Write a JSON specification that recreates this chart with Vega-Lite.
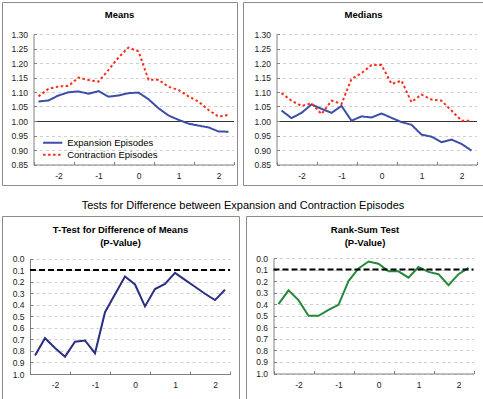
{
  "$schema": "https://vega.github.io/schema/vega-lite/v6.json",
  "padding": {"left": 1, "top": 1, "right": 1, "bottom": 1},
  "config": {
    "font": "Liberation Sans",
    "view": {"stroke": "#8c8c8c", "strokeWidth": 1},
    "axis": {
      "domainColor": "#808080",
      "tickColor": "#808080",
      "tickSize": -3,
      "labelFont": "Liberation Sans",
      "labelFontSize": 8.5,
      "labelColor": "#1a1a1a",
      "gridColor": "#d0d0d0",
      "gridDash": [3, 3],
      "labelFlush": false,
      "labelOverlap": false,
      "labelSeparation": 0
    },
    "title": {"font": "Liberation Sans", "color": "#000000"}
  },
  "datasets": {
    "means": [
      {"q": -2.5, "s": "Expansion Episodes", "v": 1.067},
      {"q": -2.25, "s": "Expansion Episodes", "v": 1.071},
      {"q": -2, "s": "Expansion Episodes", "v": 1.088},
      {"q": -1.75, "s": "Expansion Episodes", "v": 1.099},
      {"q": -1.5, "s": "Expansion Episodes", "v": 1.102},
      {"q": -1.25, "s": "Expansion Episodes", "v": 1.094},
      {"q": -1, "s": "Expansion Episodes", "v": 1.103},
      {"q": -0.75, "s": "Expansion Episodes", "v": 1.084},
      {"q": -0.5, "s": "Expansion Episodes", "v": 1.088},
      {"q": -0.25, "s": "Expansion Episodes", "v": 1.096},
      {"q": 0, "s": "Expansion Episodes", "v": 1.098},
      {"q": 0.25, "s": "Expansion Episodes", "v": 1.075},
      {"q": 0.5, "s": "Expansion Episodes", "v": 1.044},
      {"q": 0.75, "s": "Expansion Episodes", "v": 1.019},
      {"q": 1, "s": "Expansion Episodes", "v": 1.004},
      {"q": 1.25, "s": "Expansion Episodes", "v": 0.991},
      {"q": 1.5, "s": "Expansion Episodes", "v": 0.984},
      {"q": 1.75, "s": "Expansion Episodes", "v": 0.978},
      {"q": 2, "s": "Expansion Episodes", "v": 0.964},
      {"q": 2.25, "s": "Expansion Episodes", "v": 0.963},
      {"q": -2.5, "s": "Contraction Episodes", "v": 1.085},
      {"q": -2.25, "s": "Contraction Episodes", "v": 1.111},
      {"q": -2, "s": "Contraction Episodes", "v": 1.119},
      {"q": -1.75, "s": "Contraction Episodes", "v": 1.121},
      {"q": -1.5, "s": "Contraction Episodes", "v": 1.15},
      {"q": -1.25, "s": "Contraction Episodes", "v": 1.141},
      {"q": -1, "s": "Contraction Episodes", "v": 1.136},
      {"q": -0.75, "s": "Contraction Episodes", "v": 1.176},
      {"q": -0.5, "s": "Contraction Episodes", "v": 1.219},
      {"q": -0.25, "s": "Contraction Episodes", "v": 1.253},
      {"q": 0, "s": "Contraction Episodes", "v": 1.24},
      {"q": 0.25, "s": "Contraction Episodes", "v": 1.142},
      {"q": 0.5, "s": "Contraction Episodes", "v": 1.142},
      {"q": 0.75, "s": "Contraction Episodes", "v": 1.118},
      {"q": 1, "s": "Contraction Episodes", "v": 1.107},
      {"q": 1.25, "s": "Contraction Episodes", "v": 1.085},
      {"q": 1.5, "s": "Contraction Episodes", "v": 1.067},
      {"q": 1.75, "s": "Contraction Episodes", "v": 1.038},
      {"q": 2, "s": "Contraction Episodes", "v": 1.015},
      {"q": 2.25, "s": "Contraction Episodes", "v": 1.021}
    ],
    "medians": [
      {"q": -2.5, "s": "Expansion Episodes", "v": 1.036},
      {"q": -2.25, "s": "Expansion Episodes", "v": 1.01},
      {"q": -2, "s": "Expansion Episodes", "v": 1.028},
      {"q": -1.75, "s": "Expansion Episodes", "v": 1.057},
      {"q": -1.5, "s": "Expansion Episodes", "v": 1.042},
      {"q": -1.25, "s": "Expansion Episodes", "v": 1.028},
      {"q": -1, "s": "Expansion Episodes", "v": 1.052},
      {"q": -0.75, "s": "Expansion Episodes", "v": 1.001},
      {"q": -0.5, "s": "Expansion Episodes", "v": 1.016},
      {"q": -0.25, "s": "Expansion Episodes", "v": 1.012},
      {"q": 0, "s": "Expansion Episodes", "v": 1.026},
      {"q": 0.25, "s": "Expansion Episodes", "v": 1.011},
      {"q": 0.5, "s": "Expansion Episodes", "v": 0.996},
      {"q": 0.75, "s": "Expansion Episodes", "v": 0.987},
      {"q": 1, "s": "Expansion Episodes", "v": 0.953},
      {"q": 1.25, "s": "Expansion Episodes", "v": 0.946},
      {"q": 1.5, "s": "Expansion Episodes", "v": 0.927},
      {"q": 1.75, "s": "Expansion Episodes", "v": 0.936},
      {"q": 2, "s": "Expansion Episodes", "v": 0.921},
      {"q": 2.25, "s": "Expansion Episodes", "v": 0.898},
      {"q": -2.5, "s": "Contraction Episodes", "v": 1.096},
      {"q": -2.25, "s": "Contraction Episodes", "v": 1.07},
      {"q": -2, "s": "Contraction Episodes", "v": 1.052},
      {"q": -1.75, "s": "Contraction Episodes", "v": 1.061},
      {"q": -1.5, "s": "Contraction Episodes", "v": 1.024},
      {"q": -1.25, "s": "Contraction Episodes", "v": 1.07},
      {"q": -1, "s": "Contraction Episodes", "v": 1.059},
      {"q": -0.75, "s": "Contraction Episodes", "v": 1.145},
      {"q": -0.5, "s": "Contraction Episodes", "v": 1.165},
      {"q": -0.25, "s": "Contraction Episodes", "v": 1.193},
      {"q": 0, "s": "Contraction Episodes", "v": 1.193},
      {"q": 0.25, "s": "Contraction Episodes", "v": 1.128},
      {"q": 0.5, "s": "Contraction Episodes", "v": 1.139},
      {"q": 0.75, "s": "Contraction Episodes", "v": 1.065},
      {"q": 1, "s": "Contraction Episodes", "v": 1.091},
      {"q": 1.25, "s": "Contraction Episodes", "v": 1.074},
      {"q": 1.5, "s": "Contraction Episodes", "v": 1.07},
      {"q": 1.75, "s": "Contraction Episodes", "v": 1.036},
      {"q": 2, "s": "Contraction Episodes", "v": 1.001},
      {"q": 2.25, "s": "Contraction Episodes", "v": 1.001}
    ],
    "ttest": [
      {"q": -2.5, "p": 0.84}, {"q": -2.25, "p": 0.69}, {"q": -2, "p": 0.775}, {"q": -1.75, "p": 0.85},
      {"q": -1.5, "p": 0.72}, {"q": -1.25, "p": 0.71}, {"q": -1, "p": 0.82}, {"q": -0.75, "p": 0.465},
      {"q": -0.5, "p": 0.31}, {"q": -0.25, "p": 0.155}, {"q": 0, "p": 0.225}, {"q": 0.25, "p": 0.415},
      {"q": 0.5, "p": 0.265}, {"q": 0.75, "p": 0.22}, {"q": 1, "p": 0.125}, {"q": 1.25, "p": 0.185},
      {"q": 1.5, "p": 0.245}, {"q": 1.75, "p": 0.305}, {"q": 2, "p": 0.36}, {"q": 2.25, "p": 0.27}
    ],
    "ranksum": [
      {"q": -2.5, "p": 0.4}, {"q": -2.25, "p": 0.28}, {"q": -2, "p": 0.365}, {"q": -1.75, "p": 0.5},
      {"q": -1.5, "p": 0.5}, {"q": -1.25, "p": 0.45}, {"q": -1, "p": 0.405}, {"q": -0.75, "p": 0.2},
      {"q": -0.5, "p": 0.09}, {"q": -0.25, "p": 0.03}, {"q": 0, "p": 0.05}, {"q": 0.25, "p": 0.115},
      {"q": 0.5, "p": 0.115}, {"q": 0.75, "p": 0.17}, {"q": 1, "p": 0.078}, {"q": 1.25, "p": 0.12},
      {"q": 1.5, "p": 0.14}, {"q": 1.75, "p": 0.235}, {"q": 2, "p": 0.14}, {"q": 2.25, "p": 0.085}
    ],
    "threshold": [{"p": 0.1}]
  },
  "spacing": 13,
  "vconcat": [
    {
      "spacing": 4,
      "hconcat": [
        {
          "width": 235,
          "height": 183,
          "title": {"text": "Means", "fontSize": 9.5, "fontWeight": "bold", "offset": -17},
          "data": {"name": "means"},
          "mark": {"type": "line", "strokeWidth": 2},
          "encoding": {
            "x": {
              "field": "q", "type": "quantitative",
              "scale": {"domain": [-2.625, 2.375], "range": [31.5, 231.5], "nice": false, "zero": false},
              "axis": {"title": null, "grid": false, "values": [-2.625, -1.625, -0.625, 0.375, 1.375, 2.375],
                       "labelExpr": "datum.value < -2 ? '' : '' + (datum.value - 0.375)",
                       "labelOffset": -15, "offset": -20.5, "labelPadding": 9.5, "labelOverlap": false}
            },
            "y": {
              "field": "v", "type": "quantitative",
              "scale": {"domain": [0.85, 1.3], "range": [162.5, 32], "nice": false, "zero": false},
              "axis": {"title": null, "grid": true, "values": [0.85, 0.9, 0.95, 1, 1.05, 1.1, 1.15, 1.2, 1.25, 1.3],
                       "format": ".2f", "offset": -31.5, "labelPadding": 9, "labelOverlap": false,
                       "gridColor": {"condition": {"test": "abs(datum.value - 1) < 0.001", "value": "#333333"}, "value": "#d0d0d0"},
                       "gridDash": {"condition": {"test": "abs(datum.value - 1) < 0.001", "value": [1, 0]}, "value": [3, 3]}}
            },
            "color": {
              "field": "s", "type": "nominal",
              "scale": {"domain": ["Expansion Episodes", "Contraction Episodes"], "range": ["#3d4ea8", "#ff2a1a"]},
              "legend": {"title": null, "orient": "none", "legendX": 39.7, "legendY": 135, "symbolType": "stroke",
                         "symbolSize": 370, "symbolStrokeWidth": 2, "labelFontSize": 9.5, "labelColor": "#000000",
                         "labelOffset": 3.5, "rowPadding": 0, "clipHeight": 11.7, "padding": 0}
            },
            "strokeDash": {
              "field": "s", "type": "nominal",
              "scale": {"domain": ["Expansion Episodes", "Contraction Episodes"], "range": [[1, 0], [2.5, 2.5]]},
              "legend": {"title": null, "orient": "none", "legendX": 39.7, "legendY": 135, "symbolType": "stroke",
                         "symbolSize": 370, "symbolStrokeWidth": 2, "labelFontSize": 9.5, "labelColor": "#000000",
                         "labelOffset": 3.5, "rowPadding": 0, "clipHeight": 11.7, "padding": 0}
            }
          }
        },
        {
          "width": 241,
          "height": 183,
          "title": {"text": "Medians", "fontSize": 9.5, "fontWeight": "bold", "offset": -17},
          "data": {"name": "medians"},
          "mark": {"type": "line", "strokeWidth": 2},
          "encoding": {
            "x": {
              "field": "q", "type": "quantitative",
              "scale": {"domain": [-2.625, 2.375], "range": [33.5, 233.5], "nice": false, "zero": false},
              "axis": {"title": null, "grid": false, "values": [-2.625, -1.625, -0.625, 0.375, 1.375, 2.375],
                       "labelExpr": "datum.value < -2 ? '' : '' + (datum.value - 0.375)",
                       "labelOffset": -15, "offset": -20.5, "labelPadding": 9.5, "labelOverlap": false}
            },
            "y": {
              "field": "v", "type": "quantitative",
              "scale": {"domain": [0.85, 1.3], "range": [162.5, 32], "nice": false, "zero": false},
              "axis": {"title": null, "grid": true, "values": [0.85, 0.9, 0.95, 1, 1.05, 1.1, 1.15, 1.2, 1.25, 1.3],
                       "format": ".2f", "offset": -33.5, "labelPadding": 9, "labelOverlap": false,
                       "gridColor": {"condition": {"test": "abs(datum.value - 1) < 0.001", "value": "#333333"}, "value": "#d0d0d0"},
                       "gridDash": {"condition": {"test": "abs(datum.value - 1) < 0.001", "value": [1, 0]}, "value": [3, 3]}}
            },
            "color": {
              "field": "s", "type": "nominal",
              "scale": {"domain": ["Expansion Episodes", "Contraction Episodes"], "range": ["#3d4ea8", "#ff2a1a"]},
              "legend": {"title": null, "orient": "none", "legendX": 39.7, "legendY": 135, "symbolType": "stroke",
                         "symbolSize": 370, "symbolStrokeWidth": 2, "labelFontSize": 9.5, "labelColor": "#000000",
                         "labelOffset": 3.5, "rowPadding": 0, "clipHeight": 11.7, "padding": 0}
            },
            "strokeDash": {
              "field": "s", "type": "nominal",
              "scale": {"domain": ["Expansion Episodes", "Contraction Episodes"], "range": [[1, 0], [2.5, 2.5]]},
              "legend": {"title": null, "orient": "none", "legendX": 39.7, "legendY": 135, "symbolType": "stroke",
                         "symbolSize": 370, "symbolStrokeWidth": 2, "labelFontSize": 9.5, "labelColor": "#000000",
                         "labelOffset": 3.5, "rowPadding": 0, "clipHeight": 11.7, "padding": 0}
            }
          }
        }
      ]
    },
    {
      "title": {"text": "Tests for Difference between Expansion and Contraction Episodes", "fontSize": 11, "fontWeight": "normal", "offset": 5, "anchor": "middle"},
      "spacing": 5,
      "hconcat": [
        {
          "width": 237,
          "height": 184,
          "title": {"text": ["T-Test for Difference of Means", "(P-Value)"], "fontSize": 9.5, "fontWeight": "bold", "offset": -31, "lineHeight": 12.5},
          "resolve": {"axis": {"x": "independent", "y": "independent"}},
          "layer": [
            {
              "data": {"name": "ttest"},
              "mark": {"type": "line", "color": "#2b2f80", "strokeWidth": 2},
              "encoding": {
                "x": {
                  "field": "q", "type": "quantitative",
                  "scale": {"domain": [-2.625, 2.375], "range": [28, 228], "nice": false, "zero": false},
                  "axis": {"title": null, "grid": false, "values": [-2.625, -1.625, -0.625, 0.375, 1.375, 2.375],
                           "labelExpr": "datum.value < -2 ? '' : '' + (datum.value - 0.375)",
                           "labelOffset": -15, "offset": -26, "labelPadding": 9.5, "labelOverlap": false}
                },
                "y": {
                  "field": "p", "type": "quantitative",
                  "scale": {"domain": [0, 1], "range": [42.5, 158], "nice": false, "zero": false},
                  "axis": {"title": null, "grid": true, "values": [0, 0.1, 0.2, 0.3, 0.4, 0.5, 0.6, 0.7, 0.8, 0.9, 1],
                           "format": ".1f", "offset": -28, "labelPadding": 9, "labelOverlap": false, "labelSeparation": 0}
                }
              }
            },
            {
              "data": {"name": "threshold"},
              "mark": {"type": "rule", "color": "#000000", "strokeWidth": 2, "strokeDash": [6, 3]},
              "encoding": {
                "x": {"datum": -2.625, "axis": null},
                "x2": {"datum": 2.375},
                "y": {"field": "p", "type": "quantitative", "axis": null}
              }
            }
          ]
        },
        {
          "width": 238,
          "height": 184,
          "title": {"text": ["Rank-Sum Test", "(P-Value)"], "fontSize": 9.5, "fontWeight": "bold", "offset": -31, "lineHeight": 12.5},
          "resolve": {"axis": {"x": "independent", "y": "independent"}},
          "layer": [
            {
              "data": {"name": "ranksum"},
              "mark": {"type": "line", "color": "#25883a", "strokeWidth": 2},
              "encoding": {
                "x": {
                  "field": "q", "type": "quantitative",
                  "scale": {"domain": [-2.625, 2.375], "range": [27.5, 227.5], "nice": false, "zero": false},
                  "axis": {"title": null, "grid": false, "values": [-2.625, -1.625, -0.625, 0.375, 1.375, 2.375],
                           "labelExpr": "datum.value < -2 ? '' : '' + (datum.value - 0.375)",
                           "labelOffset": -15, "offset": -26.5, "labelPadding": 9.5, "labelOverlap": false}
                },
                "y": {
                  "field": "p", "type": "quantitative",
                  "scale": {"domain": [0, 1], "range": [42, 157.5], "nice": false, "zero": false},
                  "axis": {"title": null, "grid": true, "values": [0, 0.1, 0.2, 0.3, 0.4, 0.5, 0.6, 0.7, 0.8, 0.9, 1],
                           "format": ".1f", "offset": -27.5, "labelPadding": 9, "labelOverlap": false, "labelSeparation": 0}
                }
              }
            },
            {
              "data": {"name": "threshold"},
              "mark": {"type": "rule", "color": "#000000", "strokeWidth": 2, "strokeDash": [6, 3]},
              "encoding": {
                "x": {"datum": -2.625, "axis": null},
                "x2": {"datum": 2.375},
                "y": {"field": "p", "type": "quantitative", "axis": null}
              }
            }
          ]
        }
      ]
    }
  ]
}
